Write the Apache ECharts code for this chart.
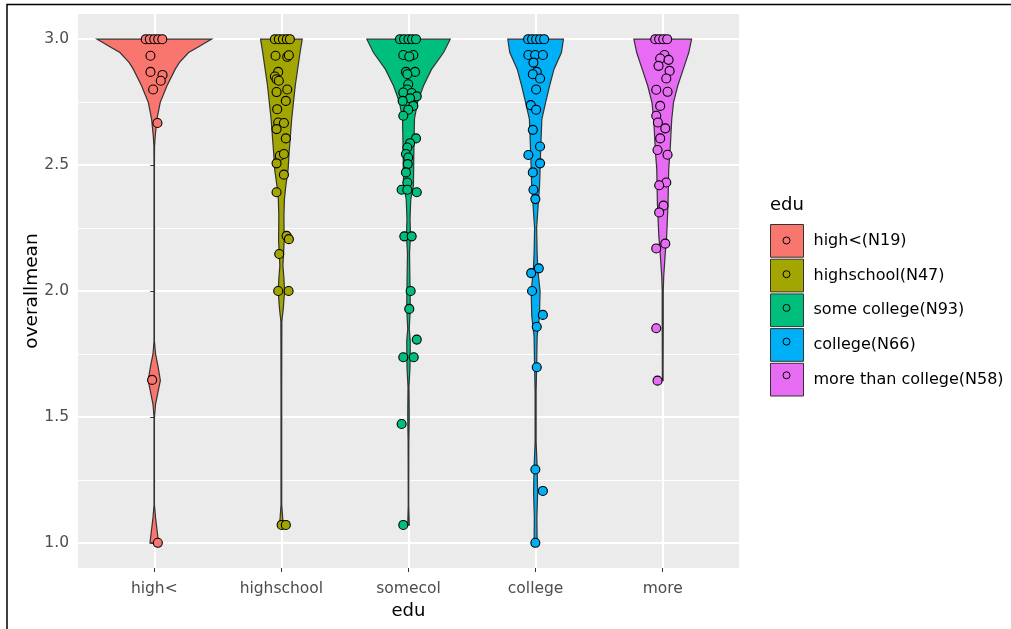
<!DOCTYPE html>
<html>
<head>
<meta charset="utf-8">
<script src="https://cdn.jsdelivr.net/npm/echarts@6/dist/echarts.min.js"></script>
<style>
  html, body { margin: 0; padding: 0; background: #fff; }
  #chart { width: 1011px; height: 629px; }
</style>
</head>
<body>
<div id="chart"></div>
<script>
// 分组与图例
var groups = ['high<', 'highschool', 'somecol', 'college', 'more'];
var legendNames = ['high<(N19)', 'highschool(N47)', 'some college(N93)', 'college(N66)', 'more than college(N58)'];
var colors = ['#F8766D', '#A3A500', '#00BF7D', '#00B0F6', '#E76BF3'];
var yTicks = [1.0, 1.5, 2.0, 2.5, 3.0];
var yMinorTicks = [1.25, 1.75, 2.25, 2.75];

// 小提琴轮廓: [overallmean, 半宽(类别单位)]
var highViolin = [[3.0, 0.45], [2.99, 0.415], [2.97, 0.349], [2.947, 0.27], [2.907, 0.197], [2.881, 0.165],
  [2.815, 0.10], [2.749, 0.047], [2.683, 0.021], [2.617, 0.008], [2.577, 0.003], [2.5, 0.002],
  [1.8, 0.002], [1.75, 0.01], [1.7, 0.03], [1.645, 0.048], [1.6, 0.03], [1.55, 0.01], [1.5, 0.002],
  [1.15, 0.002], [1.1, 0.01], [1.05, 0.022], [1.0, 0.034]];
var highschoolViolin = [[3.0, 0.164], [2.947, 0.147], [2.815, 0.109], [2.683, 0.081], [2.55, 0.061],
  [2.484, 0.053], [2.418, 0.035], [2.365, 0.024], [2.3, 0.02], [2.2, 0.022], [2.1, 0.012], [2.05, 0.02],
  [2.0, 0.025], [1.93, 0.015], [1.88, 0.004], [1.6, 0.003], [1.15, 0.003], [1.1, 0.01], [1.07, 0.016]];
var somecolViolin = [[3.0, 0.328], [2.947, 0.276], [2.88, 0.181], [2.815, 0.118], [2.749, 0.071],
  [2.683, 0.047], [2.55, 0.042], [2.418, 0.039], [2.365, 0.018], [2.286, 0.012], [2.22, 0.016],
  [2.15, 0.008], [2.02, 0.012], [1.93, 0.014], [1.85, 0.006], [1.8, 0.014], [1.7, 0.012], [1.62, 0.004],
  [1.5, 0.006], [1.4, 0.003], [1.15, 0.002], [1.07, 0.006]];
var collegeViolin = [[3.0, 0.219], [2.947, 0.203], [2.88, 0.144], [2.815, 0.11], [2.749, 0.079],
  [2.683, 0.049], [2.55, 0.039], [2.418, 0.031], [2.34, 0.02], [2.25, 0.008], [2.15, 0.012],
  [2.08, 0.018], [2.0, 0.035], [1.9, 0.03], [1.82, 0.012], [1.7, 0.008], [1.6, 0.004], [1.4, 0.004],
  [1.3, 0.012], [1.2, 0.016], [1.1, 0.01], [1.0, 0.012]];
var moreViolin = [[3.0, 0.227], [2.947, 0.205], [2.88, 0.161], [2.815, 0.118], [2.749, 0.085],
  [2.683, 0.071], [2.55, 0.057], [2.484, 0.047], [2.35, 0.042], [2.22, 0.031], [2.15, 0.02],
  [2.06, 0.008], [2.0, 0.004], [1.85, 0.004], [1.7, 0.003], [1.644, 0.003]];

// 抖动散点: [x 偏移, overallmean]
var highPoints = [[-0.067, 3.0], [-0.035, 3.0], [0.0, 3.0], [0.031, 3.0], [0.063, 3.0],
  [-0.030, 2.934], [-0.030, 2.87], [0.065, 2.858], [0.051, 2.835], [-0.009, 2.80], [0.025, 2.667],
  [-0.017, 1.647], [0.028, 1.0]];
var highschoolPoints = [[-0.051, 3.0], [-0.020, 3.0], [0.012, 3.0], [0.043, 3.0], [0.067, 3.0],
  [-0.046, 2.934], [0.046, 2.93], [0.059, 2.936], [-0.025, 2.87], [-0.051, 2.852], [-0.038, 2.841],
  [-0.020, 2.835], [-0.038, 2.79], [0.046, 2.80], [0.035, 2.755], [-0.033, 2.722], [-0.025, 2.669],
  [0.020, 2.667], [-0.038, 2.643], [0.035, 2.606], [-0.012, 2.537], [0.020, 2.544], [-0.038, 2.507],
  [0.020, 2.462], [-0.038, 2.392], [0.041, 2.219], [0.059, 2.206], [-0.017, 2.147], [-0.025, 2.0],
  [0.057, 2.0], [0.002, 1.071], [0.035, 1.071]];
var somecolPoints = [[-0.067, 3.0], [-0.035, 3.0], [0.0, 3.0], [0.028, 3.0], [0.059, 3.0],
  [-0.041, 2.937], [0.038, 2.937], [0.006, 2.931], [-0.020, 2.87], [0.051, 2.87], [-0.009, 2.861],
  [-0.002, 2.821], [-0.009, 2.80], [-0.041, 2.788], [0.025, 2.786], [0.065, 2.773], [0.012, 2.765],
  [-0.046, 2.755], [0.038, 2.735], [-0.002, 2.72], [-0.041, 2.696], [0.059, 2.606], [0.012, 2.587],
  [-0.009, 2.57], [-0.020, 2.544], [-0.002, 2.53], [-0.006, 2.504], [-0.020, 2.471], [-0.009, 2.431],
  [-0.054, 2.402], [-0.009, 2.402], [0.065, 2.392], [-0.033, 2.217], [0.025, 2.217], [0.017, 2.0],
  [0.006, 1.929], [0.065, 1.807], [-0.041, 1.737], [0.041, 1.737], [-0.054, 1.472], [-0.041, 1.071]];
var collegePoints = [[-0.059, 3.0], [-0.028, 3.0], [0.004, 3.0], [0.035, 3.0], [0.067, 3.0],
  [-0.057, 2.937], [-0.004, 2.937], [0.057, 2.937], [-0.017, 2.907], [0.009, 2.87], [-0.022, 2.861],
  [0.035, 2.844], [0.004, 2.80], [-0.038, 2.738], [0.004, 2.72], [-0.022, 2.64], [0.035, 2.574],
  [-0.057, 2.54], [0.035, 2.507], [-0.022, 2.471], [-0.017, 2.402], [-0.002, 2.365], [0.025, 2.09],
  [-0.035, 2.071], [-0.028, 2.0], [0.057, 1.905], [0.009, 1.858], [0.009, 1.697], [-0.002, 1.291],
  [0.057, 1.206], [-0.002, 1.0]];
var morePoints = [[-0.059, 3.0], [-0.028, 3.0], [0.004, 3.0], [0.035, 3.0],
  [0.014, 2.937], [-0.020, 2.923], [0.046, 2.918], [-0.033, 2.894], [0.054, 2.874], [0.028, 2.844],
  [-0.051, 2.799], [0.038, 2.791], [-0.020, 2.735], [-0.051, 2.696], [-0.038, 2.669], [0.020, 2.646],
  [-0.020, 2.606], [-0.041, 2.56], [0.038, 2.541], [0.028, 2.431], [-0.028, 2.42], [0.006, 2.339],
  [-0.028, 2.312], [0.020, 2.188], [-0.051, 2.169], [-0.051, 1.852], [-0.041, 1.644]];

var violins = [highViolin, highschoolViolin, somecolViolin, collegeViolin, moreViolin];
var points = [highPoints, highschoolPoints, somecolPoints, collegePoints, morePoints];

var chartDom = document.getElementById('chart');
var myChart = echarts.init(chartDom);
var FONT = 'DejaVu Sans, sans-serif';

var series = [];
groups.forEach(function (g, gi) {
  var prof = violins[gi];
  // 小提琴
  series.push({
    name: legendNames[gi],
    type: 'custom',
    z: 2,
    silent: true,
    itemStyle: { color: colors[gi] },
    data: [[gi, prof[0][0]]],
    encode: { x: 0, y: 1 },
    renderItem: function (params, api) {
      var pts = [];
      prof.forEach(function (p) { pts.push(api.coord([gi + p[1], p[0]])); });
      for (var i = prof.length - 1; i >= 0; i--) {
        pts.push(api.coord([gi - prof[i][1], prof[i][0]]));
      }
      return {
        type: 'polygon',
        shape: { points: pts },
        style: { fill: colors[gi], stroke: '#333333', lineWidth: 1.2 }
      };
    }
  });
});
groups.forEach(function (g, gi) {
  // 抖动点
  series.push({
    name: legendNames[gi],
    type: 'scatter',
    z: 3,
    symbol: 'circle',
    symbolSize: 9,
    itemStyle: { color: colors[gi], borderColor: '#000', borderWidth: 1.1, opacity: 1 },
    data: points[gi].map(function (p) { return [gi + p[0], p[1]]; })
  });
});

// 外框、图例标题与图例中的小圆圈
var graphics = [
  { type: 'polyline', silent: true, shape: { points: [[7, 629], [7, 4.5], [1011, 4.5]] },
    style: { stroke: '#000', lineWidth: 1.5, fill: null } },
  { type: 'text', left: 770, top: 196, style: { text: 'edu', font: '18px ' + FONT, fill: '#000' } }
];
legendNames.forEach(function (n, i) {
  graphics.push({ type: 'circle', silent: true, z: 100,
    shape: { cx: 786.5, cy: 240.5 + i * 33.7, r: 3.5 },
    style: { fill: colors[i], stroke: '#000', lineWidth: 1 } });
});

var option = {
  animation: false,
  backgroundColor: '#fff',
  grid: { left: 78, top: 14, width: 661, height: 554, show: true, backgroundColor: '#EBEBEB', borderWidth: 0 },
  legend: {
    orient: 'vertical',
    left: 770,
    top: 224,
    padding: 0,
    itemWidth: 33,
    itemHeight: 32.7,
    itemGap: 1,
    selectedMode: false,
    textStyle: { fontFamily: FONT, fontSize: 16, color: '#000', padding: [0, 0, 0, 5] },
    data: legendNames.map(function (n, i) {
      return { name: n, icon: 'rect', itemStyle: { color: colors[i], borderColor: '#333333', borderWidth: 1 } };
    })
  },
  xAxis: {
    type: 'value',
    min: -0.6,
    max: 4.6,
    name: 'edu',
    nameLocation: 'middle',
    nameGap: 34,
    nameMoveOverlap: false,
    nameTextStyle: { fontFamily: FONT, fontSize: 18, color: '#000' },
    axisLine: { show: false },
    axisTick: { show: true, length: 4, lineStyle: { color: '#333333', width: 1 }, customValues: [0, 1, 2, 3, 4] },
    axisLabel: {
      customValues: [0, 1, 2, 3, 4],
      margin: 13,
      fontFamily: FONT, fontSize: 15.5, color: '#4D4D4D',
      formatter: function (v) { return groups[Math.round(v)]; }
    },
    splitLine: { show: true, lineStyle: { color: '#fff', width: 2 } }
  },
  yAxis: [{
    type: 'value',
    min: 0.9,
    max: 3.1,
    name: 'overallmean',
    nameLocation: 'middle',
    nameGap: 36,
    nameMoveOverlap: false,
    nameTextStyle: { fontFamily: FONT, fontSize: 18.5, color: '#000' },
    axisLine: { show: false },
    axisTick: { show: true, length: 4, lineStyle: { color: '#333333', width: 1 }, customValues: yTicks },
    axisLabel: {
      customValues: yTicks,
      margin: 9,
      fontFamily: FONT, fontSize: 15.5, color: '#4D4D4D',
      formatter: function (v) { return v.toFixed(1); }
    },
    splitLine: { show: true, lineStyle: { color: '#fff', width: 2 } }
  }, {
    type: 'value',
    min: 0.9,
    max: 3.1,
    position: 'left',
    axisLine: { show: false },
    axisTick: { show: false, customValues: yMinorTicks },
    axisLabel: { show: false, customValues: yMinorTicks },
    splitLine: { show: true, lineStyle: { color: '#fff', width: 1 } }
  }],
  series: series,
  graphic: graphics
};
option && myChart.setOption(option);
</script>
</body>
</html>
